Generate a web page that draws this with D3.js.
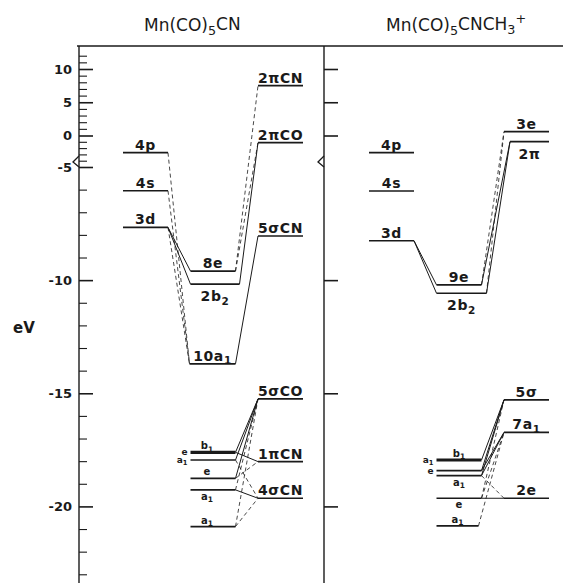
<!DOCTYPE html>
<html>
<head>
<meta charset="utf-8">
<script src="https://cdn.jsdelivr.net/npm/d3@7"></script>
<style>
  body { margin: 0; background: #fff; }
  svg { display: block; }
  text { font-family: "DejaVu Sans", sans-serif; fill: #1a1a1a; }
</style>
</head>
<body>
<div id="chart"></div>
<script>
// ---------- data (energies in eV)

var titles = ["Mn(CO)_5CN", "Mn(CO)_5CNCH_3^+"];

// Mn(CO)5CN
var cnIds     = ["4p", "4s", "3d", "8e", "2b2", "10a1", "2piCN", "2piCO", "5sCN",
                 "b1", "ea1", "e", "a1", "a1b", "5sCO", "1piCN", "4sCN"];
var cnLabels  = ["4p", "4s", "3d", "8e", "2b_2", "10a_1", "2πCN", "2πCO", "5σCN",
                 "b_1", "", "e", "a_1", "a_1", "5σCO", "1πCN", "4σCN"];
var cnEnergy  = [-2.73, -6.05, -7.67, -9.6, -10.18, -13.7, 7.49, -1.14, -8.05,
                 -17.61, -17.95, -18.76, -19.27, -20.89, -15.25, -18.02, -19.64];
var cnColumn  = ["M", "M", "M", "C", "C", "C", "L", "L", "L",
                 "C", "C", "C", "C", "C", "L", "L", "L"];
var cnSide    = { b1: "e", ea1: "a_1" };
// [from, to, dashed]
var cnLinks = [
  ["3d", "8e", 0], ["3d", "2b2", 0], ["4p", "10a1", 1], ["4s", "10a1", 1], ["3d", "10a1", 1],
  ["8e", "2piCN", 1], ["8e", "2piCO", 1], ["2b2", "2piCO", 0], ["10a1", "5sCN", 0],
  ["b1", "5sCO", 0], ["ea1", "5sCO", 0], ["e", "5sCO", 0], ["a1", "5sCO", 1], ["a1b", "5sCO", 1],
  ["b1", "1piCN", 0], ["e", "1piCN", 1], ["ea1", "4sCN", 1], ["a1", "4sCN", 0], ["a1b", "4sCN", 1]
];

// Mn(CO)5CNCH3+
var meIds     = ["4p", "4s", "3d", "9e", "2b2", "3e", "2pi",
                 "b1", "a1e", "a1", "e", "a1b", "5s", "7a1", "2e"];
var meLabels  = ["4p", "4s", "3d", "9e", "2b_2", "3e", "2π",
                 "b_1", "", "a_1", "e", "a_1", "5σ", "7a_1", "2e"];
var meEnergy  = [-2.73, -6.06, -8.26, -10.21, -10.58, 0.57, -0.98,
                 -17.95, -18.42, -18.64, -19.64, -20.86, -15.29, -16.73, -19.64];
var meColumn  = ["M", "M", "M", "C", "C", "L", "L",
                 "C", "C", "C", "C", "C", "L", "L", "L"];
var meSide    = { b1: "a_1", a1e: "e" };
var meLinks = [
  ["3d", "9e", 0], ["3d", "2b2", 0], ["9e", "3e", 1], ["9e", "2pi", 0], ["2b2", "3e", 1], ["2b2", "2pi", 0],
  ["b1", "5s", 0], ["a1e", "5s", 0], ["a1", "5s", 0], ["a1e", "7a1", 0], ["a1", "7a1", 0],
  ["e", "5s", 1], ["e", "7a1", 1], ["a1b", "7a1", 1], ["a1", "2e", 1], ["e", "2e", 0]
];

var majorTicks = [10, 5, 0, -5, -10, -15, -20];
var minorTicks = d3.range(12, -24, -1).filter(function (d) { return majorTicks.indexOf(d) < 0; });
var rightTicks = [10, 5, 0, -10, -15, -20];

// ---------- layout

var W = 563, H = 583;
var ink = "#1a1a1a";

var svg = d3.select("#chart").append("svg")
    .attr("width", W)
    .attr("height", H);

// broken energy axis: compressed above -5 eV
var y = d3.scaleLinear()
    .domain([-23.5, -5, 0, 10])
    .range([585.6, 167, 135.5, 69]);

var xPanel = d3.scaleOrdinal().domain([0, 1]).range([123, 369]);
var xCol = d3.scalePoint().domain(["M", "C", "L"]).range([0, 135]);
var levelW = 45;

var axisX = 79, midX = 324, topY = 46;

// rich text: _x subscript, ^x superscript
function rich(sel, s) {
  var parts = s.match(/[_^].|[^_^]+/g) || [];
  var shift = 0;
  parts.forEach(function (p) {
    var t = sel.append("tspan"), target = 0, txt = p;
    if (p[0] === "_") { target = 0.32; txt = p.slice(1); t.attr("font-size", "0.75em"); }
    else if (p[0] === "^") { target = -0.55; txt = p.slice(1); t.attr("font-size", "0.75em"); }
    var dy = target - shift;
    if (dy !== 0) t.attr("dy", dy + "em");
    shift = target;
    t.text(txt);
  });
}

///////// frame

svg.append("line")
    .attr("x1", 77).attr("x2", W)
    .attr("y1", topY).attr("y2", topY)
    .attr("stroke", ink).attr("stroke-width", 1.4);

svg.append("line")
    .attr("x1", axisX).attr("x2", axisX)
    .attr("y1", topY).attr("y2", H)
    .attr("stroke", ink).attr("stroke-width", 1.4);

svg.append("line")
    .attr("x1", midX).attr("x2", midX)
    .attr("y1", topY).attr("y2", H)
    .attr("stroke", ink).attr("stroke-width", 1.4);

// break marks at -5
[axisX, midX].forEach(function (bx) {
  svg.append("path")
      .attr("d", "M" + bx + "," + (y(-5) - 11) + " L" + (bx - 6) + "," + (y(-5) - 5) + " L" + bx + "," + (y(-5)))
      .attr("fill", "none").attr("stroke", ink).attr("stroke-width", 1.3);
});

///////// axes

var yMajor = d3.axisLeft(y)
    .tickValues(majorTicks)
    .tickSizeInner(-14).tickSizeOuter(0).tickPadding(7)
    .tickFormat(function (d) { return String(d); });

var gMajor = svg.append("g")
    .attr("transform", "translate(" + axisX + ",0)")
    .call(yMajor);
gMajor.select(".domain").remove();
gMajor.selectAll("line").attr("stroke", ink).attr("stroke-width", 1.6);
gMajor.selectAll("text")
    .attr("font-family", "DejaVu Sans, sans-serif")
    .attr("font-size", 13).attr("font-weight", "bold")
    .attr("fill", ink);

var yMinor = d3.axisLeft(y)
    .tickValues(minorTicks)
    .tickSizeInner(-8).tickSizeOuter(0)
    .tickFormat("");

var gMinor = svg.append("g")
    .attr("transform", "translate(" + axisX + ",0)")
    .call(yMinor);
gMinor.select(".domain").remove();
gMinor.selectAll("line").attr("stroke", ink).attr("stroke-width", 1.1);

var yRight = d3.axisLeft(y)
    .tickValues(rightTicks)
    .tickSizeInner(-14).tickSizeOuter(0)
    .tickFormat("");

var gRight = svg.append("g")
    .attr("transform", "translate(" + midX + ",0)")
    .call(yRight);
gRight.select(".domain").remove();
gRight.selectAll("line").attr("stroke", ink).attr("stroke-width", 1.6);

svg.append("text")
    .attr("x", 13).attr("y", 333)
    .attr("font-size", 15).attr("font-weight", "bold")
    .text("eV");

///////// titles

var titleX = [144, 386];
titles.forEach(function (t, i) {
  var tx = svg.append("text")
      .attr("x", titleX[i]).attr("y", 31)
      .attr("font-size", 17);
  rich(tx, t);
});

///////// levels

// small layout nudges of line ends [left, right]
var nudge = {
  "0:2b2": [0, 4], "0:10a1": [-1, 0],
  "1:2b2": [0, 5], "1:2pi": [6, 0], "1:a1b": [0, -3]
};

var bigLabelsBelow = { "0:2b2": 1, "1:2b2": 1, "1:2pi": 1 };
var smallBelow = { "0:a1": 1, "1:a1": 1, "1:e": 1 };
var small = { b1: 1, ea1: 1, a1e: 1, e: 1, a1: 1, a1b: 1 };

var panels = [
  { ids: cnIds, labels: cnLabels, energy: cnEnergy, column: cnColumn, side: cnSide, links: cnLinks },
  { ids: meIds, labels: meLabels, energy: meEnergy, column: meColumn, side: meSide, links: meLinks }
];

panels.forEach(function (p, pi) {
  var levels = p.ids.map(function (id, i) {
    var n = nudge[pi + ":" + id] || [0, 0];
    var x0 = xPanel(pi) + xCol(p.column[i]);
    return {
      key: pi + ":" + id, id: id, label: p.labels[i], e: p.energy[i], col: p.column[i],
      x0: x0 + n[0], x1: x0 + levelW + n[1],
      small: p.column[i] === "C" && small[id] && p.energy[i] < -15
    };
  });
  var byId = {};
  levels.forEach(function (d) { byId[d.id] = d; });

  var g = svg.append("g");

  // connecting lines
  g.selectAll("line.link")
    .data(p.links)
    .enter().append("line")
      .attr("class", "link")
      .attr("x1", function (d) { return byId[d[0]].x1; })
      .attr("y1", function (d) { return y(byId[d[0]].e); })
      .attr("x2", function (d) { return byId[d[1]].x0; })
      .attr("y2", function (d) { return y(byId[d[1]].e); })
      .attr("stroke", ink)
      .attr("stroke-width", function (d) { return d[2] ? 0.8 : 1; })
      .attr("stroke-dasharray", function (d) { return d[2] ? "4,3" : null; });

  // level lines
  g.selectAll("line.level")
    .data(levels)
    .enter().append("line")
      .attr("class", "level")
      .attr("x1", function (d) { return d.x0; })
      .attr("x2", function (d) { return d.x1; })
      .attr("y1", function (d) { return y(d.e); })
      .attr("y2", function (d) { return y(d.e); })
      .attr("stroke", ink)
      .attr("stroke-width", function (d) { return d.id === "b1" ? 3.2 : 1.7; });

  // level labels
  levels.forEach(function (d) {
    if (!d.label) return;
    var cx = (d.x0 + d.x1) / 2, ly;
    var t = g.append("text").attr("text-anchor", "middle");
    if (d.small) {
      ly = smallBelow[d.key] ? y(d.e) + 10 : y(d.e) - 3;
      t.attr("x", cx - (pi === 0 ? 6 : 0)).attr("y", ly).attr("font-size", 10).attr("font-weight", "bold");
    } else {
      ly = bigLabelsBelow[d.key] ? y(d.e) + 17 : y(d.e) - 3;
      t.attr("x", cx).attr("y", ly).attr("font-size", 14).attr("font-weight", "bold")
       .attr("letter-spacing", 0.6);
    }
    rich(t, d.label);
  });

  // stacked labels at the left end of the close-lying levels
  Object.keys(p.side).forEach(function (id) {
    var d = byId[id];
    var t = g.append("text")
        .attr("x", d.x0 - 3).attr("y", y(d.e) + 3)
        .attr("text-anchor", "end")
        .attr("font-size", 9).attr("font-weight", "bold");
    rich(t, p.side[id]);
  });
});
</script>
</body>
</html>
